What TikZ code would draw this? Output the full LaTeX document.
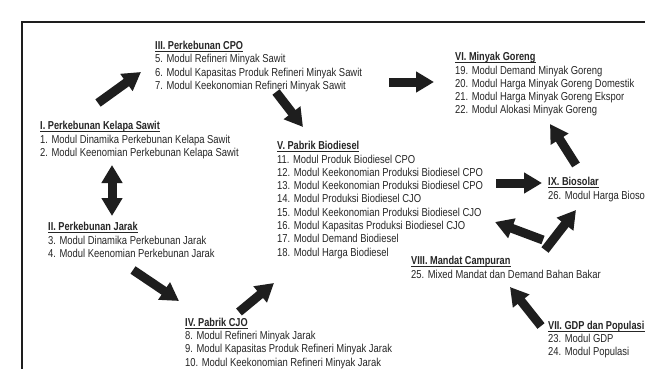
\documentclass[tikz,border=0pt]{standalone}
\usepackage{fontspec}
\setmainfont{Liberation Sans}[FakeStretch=0.82]
\newfontfamily\hdfont{Liberation Sans Bold}[FakeStretch=0.8]
\usetikzlibrary{arrows.meta}
\definecolor{ink}{HTML}{1E1E1E}
\definecolor{txt}{HTML}{262626}
\tikzset{
  % body nodes are placed by the baseline of their last line
  body/.style={anchor=base west, align=left, inner sep=0pt, text=txt,
    font={\fontsize{11.5}{13.3}\selectfont}},
  heading/.style={anchor=base west, inner sep=0pt, text=txt,
    font={\fontsize{11.5}{13.3}\selectfont\hdfont}},
  uline/.style={draw=txt, line width=0.9pt},
  blockarrow/.style={draw=ink, line width=9pt,
    -{Triangle[length=18pt,width=20pt]}},
  twowayarrow/.style={draw=ink, line width=9pt,
    {Triangle[length=18pt,width=20pt]}-{Triangle[length=18pt,width=20pt]}},
  frame/.style={draw=ink, line width=1.3pt}
}
% underline a heading node
\newcommand{\ulhead}[1]{\draw[uline] ([yshift=-2pt]#1.base west) -- ([yshift=-2pt]#1.base east);}
\begin{document}
\begin{tikzpicture}[x=1pt,y=-1pt]
\clip (0,0) rectangle (645,369);
\fill[white] (0,0) rectangle (645,369);
\draw[frame] (22,369) -- (22,22) -- (645,22);

% I
\node[heading] (hsawit) at (40,129.5) {I. Perkebunan Kelapa Sawit};
\node[body] (sawit) at (40,156.3) {1. Modul Dinamika Perkebunan Kelapa Sawit\\
  2. Modul Keenomian Perkebunan Kelapa Sawit};
% II
\node[heading] (hjarak) at (48,230.5) {II. Perkebunan Jarak};
\node[body] (jarak) at (48,257.3) {3. Modul Dinamika Perkebunan Jarak\\
  4. Modul Keenomian Perkebunan Jarak};
% III
\node[heading] (hcpo) at (155,49.5) {III. Perkebunan CPO};
\node[body] (cpo) at (155,89.6) {5. Modul Refineri Minyak Sawit\\
  6. Modul Kapasitas Produk Refineri Minyak Sawit\\
  7. Modul Keekonomian Refineri Minyak Sawit};
% IV
\node[heading] (hcjo) at (185,326) {IV. Pabrik CJO};
\node[body] (cjo) at (185,366) {8. Modul Refineri Minyak Jarak\\
  9. Modul Kapasitas Produk Refineri Minyak Jarak\\
  10. Modul Keekonomian Refineri Minyak Jarak};
% V
\node[heading] (hbiodiesel) at (277,149.5) {V. Pabrik Biodiesel};
\node[body] (biodiesel) at (277,256.1) {11. Modul Produk Biodiesel CPO\\
  12. Modul Keekonomian Produksi Biodiesel CPO\\
  13. Modul Keekonomian Produksi Biodiesel CPO\\
  14. Modul Produksi Biodiesel CJO\\
  15. Modul Keekonomian Produksi Biodiesel CJO\\
  16. Modul Kapasitas Produksi Biodiesel CJO\\
  17. Modul Demand Biodiesel\\
  18. Modul Harga Biodiesel};
% VI
\node[heading] (hgoreng) at (455,60.5) {VI. Minyak Goreng};
\node[body] (goreng) at (455,113.9) {19. Modul Demand Minyak Goreng\\
  20. Modul Harga Minyak Goreng Domestik\\
  21. Modul Harga Minyak Goreng Ekspor\\
  22. Modul Alokasi Minyak Goreng};
% VII
\node[heading] (hgdp) at (548,329) {VII. GDP dan Populasi};
\node[body] (gdp) at (548,355.8) {23. Modul GDP\\
  24. Modul Populasi};
% VIII
\node[heading] (hmandat) at (411,264.5) {VIII. Mandat Campuran};
\node[body] (mandat) at (411,278) {25. Mixed Mandat dan Demand Bahan Bakar};
% IX
\node[heading] (hbiosolar) at (548,185.5) {IX. Biosolar};
\node[body] (biosolar) at (548,199) {26. Modul Harga Biosolar};

\foreach \h in {hsawit,hjarak,hcpo,hcjo,hbiodiesel,hgoreng,hgdp,hmandat,hbiosolar}
  {\ulhead{\h}}

% arrow end points between the groups
\coordinate (a1s) at (98,103);  \coordinate (a1e) at (141,72);
\coordinate (a2s) at (389,82);  \coordinate (a2e) at (434,82);
\coordinate (a3s) at (276,92);  \coordinate (a3e) at (303,127);
\coordinate (a4s) at (112,165); \coordinate (a4e) at (112,216);
\coordinate (a5s) at (133,270); \coordinate (a5e) at (179,301);
\coordinate (a6s) at (239,312); \coordinate (a6e) at (274,283);
\coordinate (a7s) at (496,183); \coordinate (a7e) at (542,183);
\coordinate (a8s) at (576,165); \coordinate (a8e) at (550,124);
\coordinate (a9s) at (543,240); \coordinate (a9e) at (495,222);
\coordinate (a10s) at (545,250); \coordinate (a10e) at (576,210);
\coordinate (a11s) at (541,326); \coordinate (a11e) at (510,287);

\draw[blockarrow] (a1s) -- (a1e);
\draw[blockarrow] (a2s) -- (a2e);
\draw[blockarrow] (a3s) -- (a3e);
\draw[twowayarrow] (a4s) -- (a4e);
\draw[blockarrow] (a5s) -- (a5e);
\draw[blockarrow] (a6s) -- (a6e);
\draw[blockarrow] (a7s) -- (a7e);
\draw[blockarrow] (a8s) -- (a8e);
\draw[blockarrow] (a9s) -- (a9e);
\draw[blockarrow] (a10s) -- (a10e);
\draw[blockarrow] (a11s) -- (a11e);
\end{tikzpicture}
\end{document}
